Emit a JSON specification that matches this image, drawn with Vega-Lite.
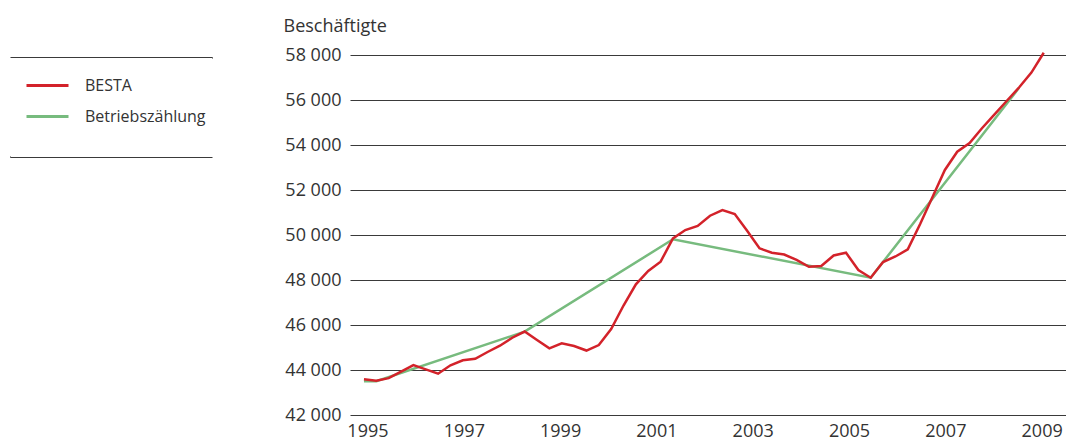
{
  "$schema": "https://vega.github.io/schema/vega-lite/v6.json",
  "width": 716,
  "height": 360,
  "autosize": {"type": "none"},
  "padding": {"left": 350, "top": 55, "right": 0, "bottom": 22},
  "background": "white",
  "config": {
    "view": {"stroke": null},
    "font": "Open Sans",
    "legend": {"strokeWidth": 1, "strokeDash": [203, 99]}
  },
  "data": {
    "values": [
      {"serie": "BESTA", "t": 0, "beschaeftigte": 43590},
      {"serie": "BESTA", "t": 1, "beschaeftigte": 43520},
      {"serie": "BESTA", "t": 2, "beschaeftigte": 43640},
      {"serie": "BESTA", "t": 3, "beschaeftigte": 43930},
      {"serie": "BESTA", "t": 4, "beschaeftigte": 44220},
      {"serie": "BESTA", "t": 5, "beschaeftigte": 44030},
      {"serie": "BESTA", "t": 6, "beschaeftigte": 43835},
      {"serie": "BESTA", "t": 7, "beschaeftigte": 44210},
      {"serie": "BESTA", "t": 8, "beschaeftigte": 44430},
      {"serie": "BESTA", "t": 9, "beschaeftigte": 44500},
      {"serie": "BESTA", "t": 10, "beschaeftigte": 44800},
      {"serie": "BESTA", "t": 11, "beschaeftigte": 45080},
      {"serie": "BESTA", "t": 12, "beschaeftigte": 45435},
      {"serie": "BESTA", "t": 13, "beschaeftigte": 45710},
      {"serie": "BESTA", "t": 14, "beschaeftigte": 45330},
      {"serie": "BESTA", "t": 15, "beschaeftigte": 44965},
      {"serie": "BESTA", "t": 16, "beschaeftigte": 45185},
      {"serie": "BESTA", "t": 17, "beschaeftigte": 45065},
      {"serie": "BESTA", "t": 18, "beschaeftigte": 44865},
      {"serie": "BESTA", "t": 19, "beschaeftigte": 45110},
      {"serie": "BESTA", "t": 20, "beschaeftigte": 45820},
      {"serie": "BESTA", "t": 21, "beschaeftigte": 46865},
      {"serie": "BESTA", "t": 22, "beschaeftigte": 47810},
      {"serie": "BESTA", "t": 23, "beschaeftigte": 48400},
      {"serie": "BESTA", "t": 24, "beschaeftigte": 48813},
      {"serie": "BESTA", "t": 25, "beschaeftigte": 49850},
      {"serie": "BESTA", "t": 26, "beschaeftigte": 50220},
      {"serie": "BESTA", "t": 27, "beschaeftigte": 50400},
      {"serie": "BESTA", "t": 28, "beschaeftigte": 50857},
      {"serie": "BESTA", "t": 29, "beschaeftigte": 51110},
      {"serie": "BESTA", "t": 30, "beschaeftigte": 50935},
      {"serie": "BESTA", "t": 31, "beschaeftigte": 50186},
      {"serie": "BESTA", "t": 32, "beschaeftigte": 49408},
      {"serie": "BESTA", "t": 33, "beschaeftigte": 49213},
      {"serie": "BESTA", "t": 34, "beschaeftigte": 49133},
      {"serie": "BESTA", "t": 35, "beschaeftigte": 48890},
      {"serie": "BESTA", "t": 36, "beschaeftigte": 48590},
      {"serie": "BESTA", "t": 37, "beschaeftigte": 48620},
      {"serie": "BESTA", "t": 38, "beschaeftigte": 49090},
      {"serie": "BESTA", "t": 39, "beschaeftigte": 49213},
      {"serie": "BESTA", "t": 40, "beschaeftigte": 48444},
      {"serie": "BESTA", "t": 41, "beschaeftigte": 48102},
      {"serie": "BESTA", "t": 42, "beschaeftigte": 48800},
      {"serie": "BESTA", "t": 43, "beschaeftigte": 49044},
      {"serie": "BESTA", "t": 44, "beschaeftigte": 49364},
      {"serie": "BESTA", "t": 45, "beschaeftigte": 50490},
      {"serie": "BESTA", "t": 46, "beschaeftigte": 51690},
      {"serie": "BESTA", "t": 47, "beschaeftigte": 52890},
      {"serie": "BESTA", "t": 48, "beschaeftigte": 53700},
      {"serie": "BESTA", "t": 49, "beschaeftigte": 54090},
      {"serie": "BESTA", "t": 50, "beschaeftigte": 54745},
      {"serie": "BESTA", "t": 51, "beschaeftigte": 55350},
      {"serie": "BESTA", "t": 52, "beschaeftigte": 55955},
      {"serie": "BESTA", "t": 53, "beschaeftigte": 56555},
      {"serie": "BESTA", "t": 54, "beschaeftigte": 57220},
      {"serie": "BESTA", "t": 55, "beschaeftigte": 58100},
      {"serie": "Betriebszählung", "t": 0, "beschaeftigte": 43500},
      {"serie": "Betriebszählung", "t": 1, "beschaeftigte": 43500},
      {"serie": "Betriebszählung", "t": 13, "beschaeftigte": 45705},
      {"serie": "Betriebszählung", "t": 25, "beschaeftigte": 49810},
      {"serie": "Betriebszählung", "t": 41, "beschaeftigte": 48100},
      {"serie": "Betriebszählung", "t": 53, "beschaeftigte": 56540}
    ]
  },
  "encoding": {
    "x": {
      "field": "t",
      "type": "quantitative",
      "scale": {"domain": [-1.13, 56.8], "nice": false, "zero": false},
      "axis": {
        "title": null,
        "values": [0.28, 8.08, 15.87, 23.66, 31.45, 39.24, 47.04, 54.83],
        "labelExpr": "'' + (1995 + 2 * round((datum.value - 0.28) / 7.79))",
        "grid": false,
        "domain": false,
        "ticks": false,
        "tickSize": 0,
        "labelPadding": 7,
        "labelFlush": false,
        "labelOverlap": false,
        "labelFontSize": 18,
        "labelColor": "#333333"
      }
    },
    "y": {
      "field": "beschaeftigte",
      "type": "quantitative",
      "scale": {"domain": [42000, 58000], "nice": false, "zero": false},
      "axis": {
        "title": "Beschäftigte",
        "titleAngle": 0,
        "titleAlign": "left",
        "titleBaseline": "alphabetic",
        "titleX": -67,
        "titleY": -24,
        "titleFontSize": 18,
        "titleFontWeight": "normal",
        "titleColor": "#333333",
        "values": [42000, 44000, 46000, 48000, 50000, 52000, 54000, 56000, 58000],
        "labelExpr": "replace(format(datum.value, ','), ',', ' ')",
        "grid": true,
        "gridColor": "#3a3a3a",
        "gridWidth": 1,
        "gridOpacity": 1,
        "domain": false,
        "ticks": false,
        "tickSize": 0,
        "labelPadding": 9,
        "labelFontSize": 18,
        "labelColor": "#333333"
      }
    },
    "color": {
      "field": "serie",
      "type": "nominal",
      "scale": {"domain": ["BESTA", "Betriebszählung"], "range": ["#d3222a", "#77bb7e"]},
      "legend": {
        "title": "\u00a0",
        "titleOrient": "bottom",
        "titleFontSize": 16,
        "titlePadding": 10,
        "orient": "none",
        "legendX": -340,
        "legendY": 2,
        "symbolType": "stroke",
        "symbolSize": 1764,
        "symbolStrokeWidth": 3,
        "symbolOffset": 9,
        "labelOffset": 15,
        "padding": 6,
        "rowPadding": -11,
        "labelFontSize": 16,
        "labelColor": "#333333",
        "strokeColor": "#3a3a3a"
      }
    }
  },
  "layer": [
    {
      "transform": [{"filter": "datum.serie === 'Betriebszählung'"}],
      "mark": {"type": "line", "strokeWidth": 2.5}
    },
    {
      "transform": [{"filter": "datum.serie === 'BESTA'"}],
      "mark": {"type": "line", "strokeWidth": 2.5}
    }
  ]
}
